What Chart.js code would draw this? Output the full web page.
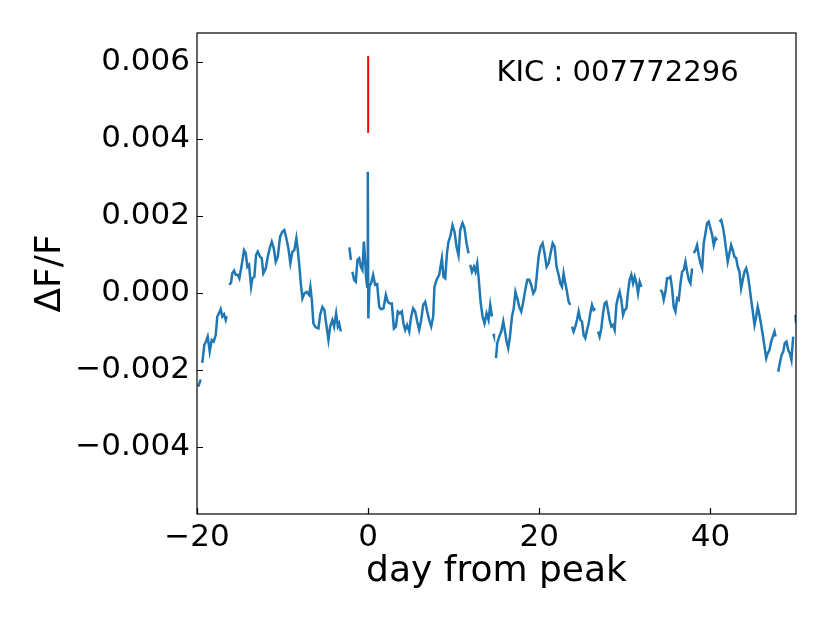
<!DOCTYPE html>
<html>
<head>
<meta charset="utf-8">
<script src="https://cdn.jsdelivr.net/npm/chart.js@4.4.1/dist/chart.umd.min.js"></script>
<style>
  html, body { margin: 0; padding: 0; background: #fff; }
  #wrap { width: 830px; height: 623px; }
</style>
</head>
<body>
<div id="wrap"><canvas id="lc" width="830" height="623"></canvas></div>
<script>
// light curve around the flare (null = data gap)
const dayFromPeak = [
  -19.85, -19.57, -19.47,
  -19.38, -19.15, -18.95, -18.75, -18.51, -18.28, -18.05, -17.81, -17.63, -17.43, -17.23, -17.04, -16.84, -16.64, -16.53, -16.4,
  -16.22, -16.02, -15.87, -15.67, -15.47, -15.24, -15.05, -14.77, -14.50, -14.30, -14.12, -13.92, -13.68, -13.53, -13.30, -13.10,
  -12.90, -12.63, -12.43, -12.25, -11.96, -11.73, -11.50, -11.26, -11.03, -10.80, -10.56, -10.29, -10.02, -9.79, -9.56, -9.32,
  -9.09, -8.85, -8.62, -8.39, -8.22, -8.03, -7.87, -7.68, -7.45, -7.17, -6.90, -6.75, -6.58, -6.40, -6.12, -5.81, -5.61, -5.35,
  -5.11, -4.91, -4.64, -4.44, -4.18, -3.98, -3.74, -3.54, -3.39, -3.19, -2.7,
  -2.19, -2.02, -1.93,
  -1.84, -1.64, -1.44, -1.25, -1.05, -0.85, -0.67, -0.50, -0.35, -0.23, -0.12, -0.04, 0.02, 0.15, 0.35, 0.58, 0.82, 1.05, 1.29,
  1.52, 1.79, 2.07, 2.30, 2.54, 2.77, 3.01, 3.24, 3.47, 3.71, 3.94, 4.13, 4.33, 4.56, 4.80, 5.03, 5.26, 5.50, 5.73, 5.96, 6.20,
  6.43, 6.67, 6.90, 7.13, 7.37, 7.60, 7.75, 7.99, 8.30, 8.62, 8.81, 9.01, 9.21, 9.39, 9.59, 9.86, 10.09, 10.33, 10.56, 10.76,
  11.03, 11.26, 11.50, 11.73, 11.83,
  11.93, 12.13, 12.36, 12.55, 12.75, 12.90, 13.14, 13.37, 13.60, 13.84, 14.07, 14.27, 14.47, 14.56,
  14.63, 14.70, 14.82,
  14.94, 15.09, 15.32, 15.56, 15.79, 15.99, 16.18, 16.37, 16.57, 16.81, 17.01, 17.21, 17.43, 17.66, 17.89, 18.13, 18.36, 18.60,
  18.83, 19.06, 19.30, 19.53, 19.69, 19.92, 20.15, 20.39, 20.62, 20.85, 21.09, 21.32, 21.56, 21.79, 22.02, 22.26, 22.46, 22.65,
  22.84, 23.04, 23.24, 23.43, 23.63, 23.72,
  23.82, 24.01, 24.21, 24.41, 24.60, 24.80, 24.99, 25.18, 25.38, 25.58, 25.77, 25.96, 26.16, 26.35, 26.55, 26.7,
  26.87, 27.05, 27.25, 27.45, 27.64, 27.84, 28.03, 28.22, 28.42, 28.62, 28.81, 29.01, 29.21, 29.39, 29.59, 29.79, 29.98, 30.18,
  30.37, 30.56, 30.76, 30.96, 31.15, 31.35, 31.54, 31.73, 31.93, 33.0,
  34.15, 34.35, 34.54, 34.74, 34.93, 35.12, 35.32, 35.52, 35.71, 35.91, 36.11, 36.30, 36.50, 36.69, 36.89, 37.08, 37.28, 37.47,
  37.66, 37.86, 37.95,
  38.05, 38.25, 38.44, 38.63, 38.83, 39.03, 39.22, 39.42, 39.61, 39.80, 40.00, 40.20, 40.39, 40.59, 40.79, 40.92,
  41.05, 41.25, 41.45, 41.64, 41.84, 42.02, 42.22, 42.42, 42.61, 42.81, 43.01, 43.19, 43.39, 43.59, 43.78, 43.98, 44.18, 44.37,
  44.57, 44.76, 44.95, 45.15, 45.35, 45.53, 45.73, 45.93, 46.12, 46.32, 46.52, 46.70, 46.90, 47.10, 47.29, 47.49, 47.61, 47.75,
  47.92, 48.11, 48.31, 48.51, 48.69, 48.89, 49.09, 49.28, 49.47, 49.67, 49.8,
  49.94, 50.02
];
const deltaFlux = [
  -0.00243, -0.00224, null,
  -0.00181, -0.00135, -0.00126, -0.00113, -0.00152, -0.00122, -0.00126, -0.00109, -0.00061, -0.00053, -0.00042, -0.00061, -0.00055, -0.00070, -0.00060, null,
  0.00021, 0.00027, 0.00051, 0.00058, 0.00047, 0.00047, 0.00038, 0.00073, 0.00111, 0.00103, 0.00068, 0.00073, 0.00016, 0.00038, 0.00042, 0.00098,
  0.00107, 0.00094, 0.00090, 0.00051, 0.00064, 0.00094, 0.00116, 0.00133, 0.00116, 0.00081, 0.00094, 0.00146, 0.00159, 0.00163, 0.00142, 0.00116,
  0.00077, 0.00107, 0.00111, 0.00142, 0.00111, 0.00068, 0.00025, -0.00014, -0.00001, 0.00003, -0.00005, 0.00016, -0.00018, -0.00079, -0.00089, -0.00092, -0.00057, -0.00036,
  -0.00044, -0.00079, -0.00122, -0.00087, -0.00070, -0.00087, -0.00053, -0.00087, -0.00079, -0.00100, null,
  0.00118, 0.00086, null,
  0.00055, 0.00034, 0.00029, 0.00086, 0.00090, 0.00068, 0.00060, 0.00133, 0.00086, 0.00038, 0.00016, 0.00314, -0.00066, 0.00016, 0.00025, 0.00047, 0.00021, 0.00023, -0.00036,
  -0.00042, -0.00040, -0.00005, -0.00023, -0.00027, -0.00027, -0.00092, -0.00087, -0.00048, -0.00053, -0.00048, -0.00079, -0.00096, -0.00083, -0.00100, -0.00061, -0.00040, -0.00048, -0.00074, -0.00096, -0.00070,
  -0.00031, -0.00023, -0.00048, -0.00070, -0.00087, -0.00061, 0.00016, 0.00034, 0.00047, 0.00090, 0.00042, 0.00038, 0.00103, 0.00133, 0.00146, 0.00176, 0.00159, 0.00120, 0.00098, 0.00163,
  0.00181, 0.00168, 0.00129, 0.00103, null,
  0.00073, 0.00055, 0.00068, 0.00055, 0.00077, 0.00042, -0.00023, -0.00061, -0.00079, -0.00053, -0.00070, -0.00031, -0.00061, null,
  -0.00106, -0.00111, null,
  -0.00169, -0.00130, -0.00113, -0.00100, -0.00074, -0.00100, -0.00126, -0.00143, -0.00113, -0.00061, -0.00040, 0.00003, -0.00014, -0.00036, -0.00048, -0.00023, 0.00008, 0.00034,
  0.00034, 0.00021, -0.00001, 0.00008, 0.00042, 0.00094, 0.00120, 0.00129, 0.00103, 0.00068, 0.00077, 0.00103, 0.00129, 0.00120, 0.00068, 0.00047, 0.00025, 0.00016,
  0.00051, 0.00025, 0.00003, -0.00023, -0.00031, null,
  -0.00087, -0.00100, -0.00087, -0.00070, -0.00048, -0.00070, -0.00074, -0.00109, -0.00117, -0.00096, -0.00079, -0.00053, -0.00031, -0.00044, -0.00040, null,
  -0.00100, -0.00113, -0.00092, -0.00053, -0.00027, -0.00023, -0.00044, -0.00070, -0.00087, -0.00083, -0.00096, -0.00031, -0.00010, 0.00003, -0.00018, -0.00057, -0.00044, -0.00040,
  0.00003, 0.00034, 0.00047, 0.00025, 0.00042, 0.00025, -0.00001, 0.00029, 0.00016, null,
  0.00008, 0.00003, -0.00018, 0.00003, 0.00038, 0.00038, 0.00042, 0.00012, -0.00036, -0.00048, -0.00014, -0.00018, 0.00025, 0.00055, 0.00060, 0.00081, 0.00055, 0.00034,
  0.00025, 0.00064, null,
  0.00103, 0.00111, 0.00124, 0.00098, 0.00077, 0.00064, 0.00129, 0.00155, 0.00181, 0.00185, 0.00168, 0.00150, 0.00124, 0.00142, 0.00137, null,
  0.00185, 0.00189, 0.00172, 0.00146, 0.00111, 0.00081, 0.00103, 0.00124, 0.00111, 0.00094, 0.00090, 0.00068, 0.00055, 0.00012, 0.00034, 0.00055, 0.00064, 0.00047,
  0.00016, -0.00018, -0.00048, -0.00083, -0.00061, -0.00036, -0.00057, -0.00083, -0.00109, -0.00139, -0.00169, -0.00156, -0.00148, -0.00126, -0.00113, -0.00100, -0.00113, null,
  -0.00204, -0.00182, -0.00161, -0.00152, -0.00130, -0.00126, -0.00148, -0.00156, -0.00174, -0.00113, null,
  -0.00057, -0.00079
];

// red marker at the flare peak
const markerDay = [0, 0];
const markerFlux = [0.00415, 0.00614];

const xTickValues = [-20, 0, 20, 40];
const yTickValues = [-0.004, -0.002, 0.000, 0.002, 0.004, 0.006];
const kicLabel = 'KIC : 007772296';

const FONT = "'DejaVu Sans', 'Liberation Sans', sans-serif";

function minusSign(s) {
  return s.replace('-', '\u2212');
}

// box around the plot, inward ticks on left/bottom, KIC label
const framePlugin = {
  id: 'frame',
  afterDraw(chart) {
    const ctx = chart.ctx;
    const a = chart.chartArea;
    const xs = chart.scales.x, ys = chart.scales.y;
    ctx.save();
    ctx.strokeStyle = '#000';
    ctx.lineWidth = 1.2;
    ctx.strokeRect(a.left, a.top, a.right - a.left, a.bottom - a.top);
    ctx.beginPath();
    xTickValues.forEach(v => {
      const px = Math.round(xs.getPixelForValue(v)) + 0.5;
      ctx.moveTo(px, a.bottom);
      ctx.lineTo(px, a.bottom - 6);
    });
    yTickValues.forEach(v => {
      const py = Math.round(ys.getPixelForValue(v)) + 0.5;
      ctx.moveTo(a.left, py);
      ctx.lineTo(a.left + 6, py);
    });
    ctx.stroke();

    ctx.fillStyle = '#000';
    ctx.font = '29px ' + FONT;
    ctx.textAlign = 'left';
    ctx.textBaseline = 'alphabetic';
    ctx.fillText(kicLabel, a.left + 0.5 * (a.right - a.left), a.top + 0.1 * (a.bottom - a.top));
    ctx.restore();
  }
};

const ctx = document.getElementById('lc').getContext('2d');
new Chart(ctx, {
  type: 'line',
  data: {
    datasets: [{
      data: dayFromPeak.map((d, i) => ({ x: d, y: deltaFlux[i] })),
      borderColor: '#1f77b4',
      borderWidth: 2.5,
      pointRadius: 0,
      tension: 0,
      spanGaps: false
    }, {
      data: markerDay.map((d, i) => ({ x: d, y: markerFlux[i] })),
      borderColor: '#ff0000',
      borderWidth: 2,
      pointRadius: 0
    }]
  },
  options: {
    responsive: false,
    animation: false,
    events: [],
    layout: { padding: { left: 0, top: 33, right: 34, bottom: 0 } },
    plugins: { legend: { display: false }, tooltip: { enabled: false } },
    scales: {
      x: {
        type: 'linear',
        min: -20,
        max: 50,
        grid: { display: false, drawTicks: false },
        border: { display: false },
        afterBuildTicks: s => { s.ticks = xTickValues.map(v => ({ value: v })); },
        afterFit: s => { s.height = 109; },
        ticks: {
          padding: 5,
          color: '#000',
          font: { family: FONT, size: 31 },
          maxRotation: 0,
          callback: v => minusSign(String(v))
        },
        title: {
          display: true,
          text: 'day from peak',
          color: '#000',
          font: { family: FONT, size: 36 },
          padding: { top: 0, bottom: 30 }
        }
      },
      y: {
        type: 'linear',
        min: -0.00573,
        max: 0.00674,
        grid: { display: false, drawTicks: false },
        border: { display: false },
        afterBuildTicks: s => { s.ticks = yTickValues.map(v => ({ value: v })); },
        afterFit: s => { s.width = 197; },
        ticks: {
          padding: 7,
          color: '#000',
          font: { family: FONT, size: 31 },
          callback: v => minusSign(Number(v).toFixed(3))
        },
        title: {
          display: true,
          text: '\u0394F/F',
          color: '#000',
          font: { family: FONT, size: 36 },
          padding: { top: 29, bottom: 0 }
        }
      }
    }
  },
  plugins: [framePlugin]
});
</script>
</body>
</html>
